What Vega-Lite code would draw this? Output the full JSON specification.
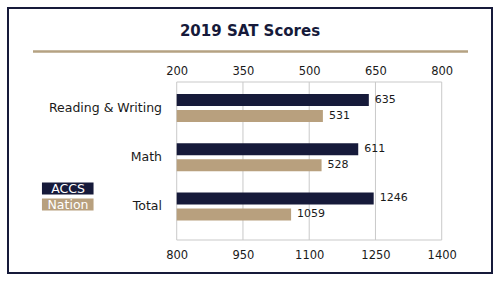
{
  "$schema": "https://vega.github.io/schema/vega-lite/v6.json",
  "background": "white",
  "padding": {"left": 8, "top": 8, "right": 8, "bottom": 8},
  "width": 484,
  "height": 265,
  "config": {"font": "DejaVu Sans", "view": {"stroke": "#161a3a", "strokeWidth": 2}},
  "title": {"text": "2019 SAT Scores", "fontSize": 15, "fontWeight": "bold", "color": "#161a3a", "anchor": "middle", "frame": "group", "baseline": "alphabetic", "offset": -43},
  "datasets": {
    "scores": [
      {"subject": "Reading & Writing", "group": "ACCS", "score": 635},
      {"subject": "Reading & Writing", "group": "Nation", "score": 531},
      {"subject": "Math", "group": "ACCS", "score": 611},
      {"subject": "Math", "group": "Nation", "score": 528}
    ],
    "totals": [
      {"subject": "Total", "group": "ACCS", "score": 1246},
      {"subject": "Total", "group": "Nation", "score": 1059}
    ],
    "ticks": [{"tick": 350}, {"tick": 500}, {"tick": 650}],
    "box": [{"lo": 200, "hi": 800}]
  },
  "layer": [
    {
      "layer": [
        {
          "data": {"name": "box"},
          "mark": {"type": "rect", "fill": null, "stroke": "#c9c9c9", "strokeWidth": 1},
          "encoding": {
            "x": {"field": "lo", "type": "quantitative", "title": null, "axis": null,
              "scale": {"domain": [-126.5, 858.4], "range": [24.5, 459.5], "nice": false, "zero": false}},
            "x2": {"field": "hi"},
            "y": {"datum": 0, "type": "quantitative", "axis": null, "scale": {"domain": [0, 1], "range": [74, 232], "nice": false, "zero": false}},
            "y2": {"datum": 1}
          }
        },
        {
          "data": {"name": "ticks"},
          "mark": {"type": "rule", "color": "#c9c9c9", "strokeWidth": 1},
          "encoding": {
            "x": {"field": "tick", "type": "quantitative", "title": null},
            "y": {"datum": 0, "type": "quantitative"},
            "y2": {"datum": 1}
          }
        }
      ]
    },
    {
      "layer": [
        {
          "layer": [
            {
              "data": {"name": "scores"},
              "mark": {"type": "bar"},
              "encoding": {
                "x": {"field": "score", "type": "quantitative", "title": null,
                  "scale": {"domain": [-126.5, 858.4], "range": [24.5, 459.5], "nice": false, "zero": false},
                  "axis": {"orient": "top", "values": [200, 350, 500, 650, 800], "format": "d", "offset": -43, "domain": true, "domainColor": "#b5a282", "domainWidth": 2.5, "ticks": false, "grid": false, "labelPadding": -23, "labelBaseline": "alphabetic", "labelFontSize": 11.5, "labelColor": "#1a1a1a", "labelFlush": false, "labelOverlap": false, "title": null}},
                "x2": {"datum": 200},
                "y": {"field": "subject", "type": "nominal", "title": null,
                  "scale": {"domain": ["Reading & Writing", "Math", "Total"], "range": [74, 232], "paddingInner": 0.431, "paddingOuter": 0.321, "align": 0.38},
                  "axis": {"orient": "left", "offset": -161.5, "domain": false, "ticks": false, "labelPadding": 8, "labelFontSize": 12.5, "labelColor": "#1a1a1a", "grid": false, "title": null}},
                "yOffset": {"field": "group", "scale": {"domain": ["ACCS", "Nation"], "paddingInner": 0.25, "paddingOuter": 0}},
                "color": {"field": "group", "type": "nominal",
                  "scale": {"domain": ["ACCS", "Nation"], "range": ["#161a3a", "#b8a07e"]},
                  "legend": {"orient": "none", "legendX": 53.5, "legendY": 174.3, "title": null, "symbolType": "M-4.3,-1H4.3V1H-4.3Z", "symbolSize": 144, "symbolStrokeWidth": 0, "symbolOpacity": 1, "labelColor": "white", "labelFontSize": 12.5, "labelAlign": "center", "labelOffset": -6, "rowPadding": 3, "padding": 0}}
              }
            },
            {
              "data": {"name": "scores"},
              "mark": {"type": "text", "align": "left", "baseline": "middle", "dx": 6, "fontSize": 11, "color": "#1a1a1a"},
              "encoding": {
                "x": {"field": "score", "type": "quantitative", "title": null},
                "y": {"field": "subject", "type": "nominal", "title": null},
                "yOffset": {"field": "group"},
                "text": {"field": "score", "type": "quantitative", "format": "d"}
              }
            }
          ]
        },
        {
          "layer": [
            {
              "data": {"name": "totals"},
              "mark": {"type": "bar"},
              "encoding": {
                "x": {"field": "score", "type": "quantitative", "title": null,
                  "scale": {"domain": [473.5, 1458.4], "range": [24.5, 459.5], "nice": false, "zero": false},
                  "axis": {"orient": "bottom", "values": [800, 950, 1100, 1250, 1400], "format": "d", "offset": -32, "domain": false, "ticks": false, "grid": false, "labelPadding": 8, "labelFontSize": 11.5, "labelColor": "#1a1a1a", "labelFlush": false, "labelOverlap": false, "title": null}},
                "x2": {"datum": 800},
                "y": {"field": "subject", "type": "nominal", "title": null},
                "yOffset": {"field": "group"},
                "color": {"field": "group", "type": "nominal"}
              }
            },
            {
              "data": {"name": "totals"},
              "mark": {"type": "text", "align": "left", "baseline": "middle", "dx": 6, "fontSize": 11, "color": "#1a1a1a"},
              "encoding": {
                "x": {"field": "score", "type": "quantitative", "title": null},
                "y": {"field": "subject", "type": "nominal", "title": null},
                "yOffset": {"field": "group"},
                "text": {"field": "score", "type": "quantitative", "format": "d"}
              }
            }
          ]
        }
      ],
      "resolve": {"scale": {"x": "independent"}, "axis": {"x": "independent"}}
    }
  ],
  "resolve": {"scale": {"x": "independent", "y": "independent"}, "axis": {"x": "independent", "y": "independent"}}
}
